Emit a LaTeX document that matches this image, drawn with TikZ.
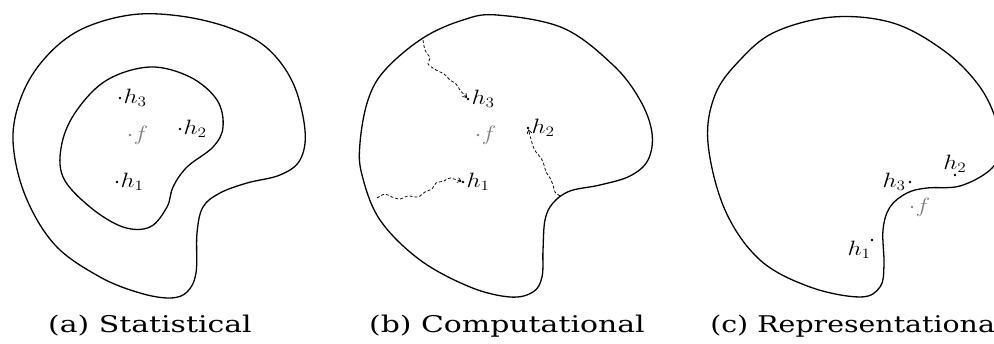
\documentclass[tikz,border=0pt]{standalone}
\usepackage{fontspec}
\setmainfont{DejaVu Serif}
\usepackage{amsmath}
\usetikzlibrary{arrows.meta}

\tikzset{
  region/.style={line width=1.3pt, line join=round},
  walk/.style={densely dashed, line width=0.75pt, -{Straight Barb[length=3.5pt,width=5pt]}, shorten >=1.5pt},
  pt/.style={circle, fill, inner sep=0pt, minimum size=2.8pt},
  lab/.style={right, inner sep=1.5pt, font=\fontsize{21}{21}\selectfont, xscale=1.2},
  caption/.style={anchor=base, inner sep=0pt, font=\fontsize{23}{23}\selectfont, xscale=1.3},
}

\begin{document}
\begin{tikzpicture}[x=1pt,y=-1pt]
    \useasboundingbox (0,0) rectangle (994,344);
    \clip (0,0) rectangle (994,344);

    % (a) Statistical
    \draw[region] plot[smooth cycle, tension=0.6] coordinates {
      (13,140) (22,95) (45,58) (80,30) (130,15) (180,16) (230,28) (267,48)
      (293,83) (305,130) (300,160) (280,175) (247,183) (220,193) (203,207)
      (197,233) (196,273) (187,292) (170,298) (140,293) (100,277) (55,245) (25,195)};
    \draw[region] plot[smooth cycle, tension=0.6] coordinates {
      (150,67) (190,77) (217,100) (223,127) (213,147) (187,167) (173,187)
      (167,207) (150,227) (123,227) (90,207) (63,177) (62,143) (77,110) (107,80)};
    \node[pt] (a3) at (120,98) {};
    \node[pt, gray] (af) at (130,135) {};
    \node[pt] (a2) at (180,129) {};
    \node[pt] (a1) at (117,182) {};
    \node[lab] (a3l) at (a3.east) {$h_3$};
    \node[lab, gray] (afl) at (af.east) {$f$};
    \node[lab] (a2l) at (a2.east) {$h_2$};
    \node[lab] (a1l) at (a1.east) {$h_1$};
    \node[caption] (capa) at (150,333) {(a) Statistical};

    % (b) Computational
    \draw[region] plot[smooth cycle, tension=0.6] coordinates {
      (360,143) (368,100) (385,70) (423,38) (463,20) (497,15) (563,28) (613,65)
      (640,100) (652,133) (648,160) (630,176) (600,185) (570,191) (553,203)
      (545,220) (543,250) (542,277) (533,292) (510,297) (470,287) (420,260)
      (380,220) (362,175)};
    \node[pt] (b3) at (468,99) {};
    \node[pt, gray] (bf) at (478,135) {};
    \node[pt] (b2) at (528,128) {};
    \node[pt] (b1) at (463,182) {};
    \node[lab] (b3l) at (b3.east) {$h_3$};
    \node[lab, gray] (bfl) at (bf.east) {$f$};
    \node[lab] (b2l) at (b2.east) {$h_2$};
    \node[lab] (b1l) at (b1.east) {$h_1$};
    \coordinate (s3) at (423,40);
    \coordinate (s2) at (560,196);
    \coordinate (s1) at (377,198);
    \draw[walk] plot[smooth, tension=0.5] coordinates {(s3) (425,50) (430,58)
      (428,64) (436,70) (444,74) (450,80) (456,84) (460,90) (b3)};
    \draw[walk] plot[smooth, tension=0.5] coordinates {(s2) (555,192) (553,185)
      (550,178) (546,172) (544,165) (541,158) (536,152) (533,146) (b2)};
    \draw[walk] plot[smooth, tension=0.5] coordinates {(s1) (385,194) (392,197)
      (400,199) (408,196) (418,197) (425,192) (432,189) (436,183) (444,181)
      (450,178) (b1)};
    \node[caption] (capb) at (507,333) {(b) Computational};

    % (c) Representational
    \draw[region] plot[smooth cycle, tension=0.6] coordinates {
      (708,143) (715,95) (740,60) (775,32) (833,17) (893,23) (943,50) (977,83)
      (995,117) (1000,150) (990,170) (960,186) (927,188) (907,193) (890,207)
      (883,230) (884,265) (880,287) (860,297) (810,287) (760,260) (725,210)};
    \node[pt] (c3) at (910,182) {};
    \node[pt, gray] (cf) at (912,207) {};
    \node[pt] (c2) at (955,175) {};
    \node[pt] (c1) at (872,240) {};
    \node[lab, left, inner sep=2pt] (c3l) at (c3.west) {$h_3$};
    \node[lab, gray] (cfl) at (cf.east) {$f$};
    \node[lab, above, inner sep=1pt] (c2l) at (c2.north) {$h_2$};
    \node[lab, below left, inner sep=0pt] (c1l) at (c1.south west) {$h_1$};
    \node[caption, anchor=base west, xscale=0.95] (capc) at (710,333) {(c) Representationa};
\end{tikzpicture}
\end{document}
